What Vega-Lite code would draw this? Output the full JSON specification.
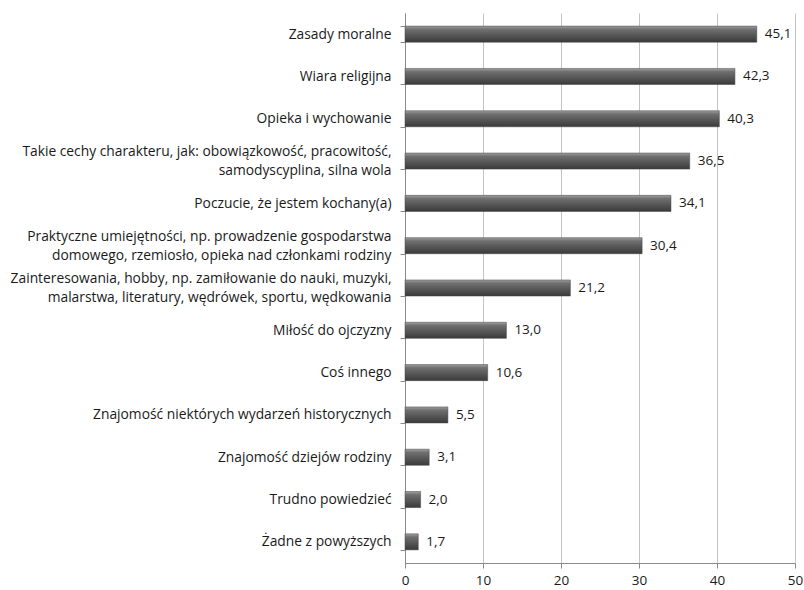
{
  "$schema": "https://vega.github.io/schema/vega-lite/v6.json",
  "width": 390,
  "height": 550,
  "autosize": "none",
  "padding": {"left": 405, "top": 13, "right": 9, "bottom": 27},
  "background": "white",
  "config": {
    "view": {"stroke": null},
    "font": "Open Sans",
    "locale": {"number": {"decimal": ",", "thousands": " ", "grouping": [3], "currency": ["", " zł"]}}
  },
  "data": {
    "values": [
      {"kategoria": "Zasady moralne", "procent": 45.1},
      {"kategoria": "Wiara religijna", "procent": 42.3},
      {"kategoria": "Opieka i wychowanie", "procent": 40.3},
      {"kategoria": "Takie cechy charakteru, jak: obowiązkowość, pracowitość,|samodyscyplina, silna wola", "procent": 36.5},
      {"kategoria": "Poczucie, że jestem kochany(a)", "procent": 34.1},
      {"kategoria": "Praktyczne umiejętności, np. prowadzenie gospodarstwa|domowego, rzemiosło, opieka nad członkami rodziny", "procent": 30.4},
      {"kategoria": "Zainteresowania, hobby, np. zamiłowanie do nauki, muzyki,|malarstwa, literatury, wędrówek, sportu, wędkowania", "procent": 21.2},
      {"kategoria": "Miłość do ojczyzny", "procent": 13.0},
      {"kategoria": "Coś innego", "procent": 10.6},
      {"kategoria": "Znajomość niektórych wydarzeń historycznych", "procent": 5.5},
      {"kategoria": "Znajomość dziejów rodziny", "procent": 3.1},
      {"kategoria": "Trudno powiedzieć", "procent": 2.0},
      {"kategoria": "Żadne z powyższych", "procent": 1.7}
    ]
  },
  "encoding": {
    "y": {
      "field": "kategoria",
      "type": "nominal",
      "sort": {"field": "procent", "order": "descending"},
      "scale": {"paddingInner": 0.62, "paddingOuter": 0.31},
      "axis": {
        "title": null,
        "tickBand": "extent",
        "tickSize": 5,
        "tickColor": "#8a8a8a",
        "domainColor": "#8a8a8a",
        "labelExpr": "datum.value ? split(datum.value, '|') : ''",
        "labelOffset": {"condition": {"test": "datum.value && indexof(datum.value, '|') >= 0", "value": -9.5}, "value": 0},
        "labelFontSize": 13.8,
        "labelColor": "#1a1a1a",
        "labelPadding": 9,
        "labelLineHeight": 19,
        "labelLimit": 420
      }
    },
    "x": {
      "field": "procent",
      "type": "quantitative",
      "scale": {"domain": [0, 50], "nice": false},
      "axis": {
        "title": null,
        "values": [0, 10, 20, 30, 40, 50],
        "grid": true,
        "gridColor": "#c4c4c4",
        "tickColor": "#8a8a8a",
        "domainColor": "#8a8a8a",
        "tickSize": 5,
        "labelFontSize": 13.5,
        "labelColor": "#1a1a1a",
        "labelPadding": 5,
        "labelFlush": false
      }
    }
  },
  "layer": [
    {
      "mark": {
        "type": "bar",
        "stroke": "#444444",
        "strokeWidth": 0.5,
        "color": {
          "gradient": "linear",
          "x1": 0, "y1": 0, "x2": 0, "y2": 1,
          "stops": [
            {"offset": 0, "color": "#a0a0a0"},
            {"offset": 0.2, "color": "#707070"},
            {"offset": 0.55, "color": "#585858"},
            {"offset": 1, "color": "#3a3a3a"}
          ]
        }
      }
    },
    {
      "mark": {"type": "text", "align": "left", "dx": 8, "fontSize": 13.5, "color": "#1a1a1a"},
      "encoding": {
        "text": {"field": "procent", "type": "quantitative", "format": ".1f"}
      }
    }
  ]
}
